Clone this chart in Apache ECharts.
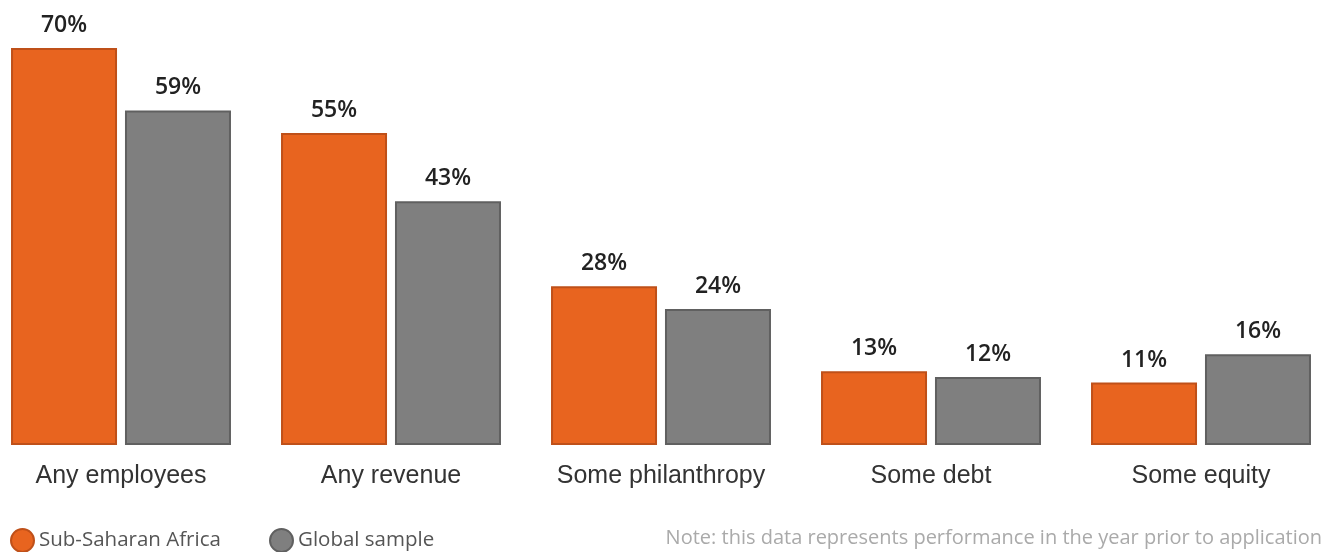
<!DOCTYPE html>
<html>
<head>
<meta charset="utf-8">
<script src="https://cdn.jsdelivr.net/npm/echarts@6/dist/echarts.min.js"></script>
<style>
html,body{margin:0;padding:0;background:#fff;}
#c{width:1324px;height:552px;}
</style>
</head>
<body>
<div id="c"></div>
<script>
const categories = ["Any employees", "Any revenue", "Some philanthropy", "Some debt", "Some equity"];
const seriesNames = ["Sub-Saharan Africa", "Global sample"];
const africa = [70, 55, 28, 13, 11];
const globalSample = [59, 43, 24, 12, 16];
const noteText = "Note: this data represents performance in the year prior to application";

const chart = echarts.init(document.getElementById('c'), null, {renderer: 'canvas'});
const labelStyle = {
  show: true, position: 'top', distance: 11,
  formatter: p => p.value + '%',
  color: '#222', fontSize: 23, fontWeight: 600, fontFamily: 'Open Sans'
};
chart.setOption({
  animation: false,
  backgroundColor: '#fff',
  grid: {left: -14, right: -12, top: 48, bottom: 107, containLabel: false, outerBoundsMode: 'none'},
  xAxis: {
    type: 'category', data: categories,
    axisLine: {show: false}, axisTick: {show: false},
    axisLabel: {interval: 0, hideOverlap: false, color: '#333', fontSize: 25, fontFamily: 'Liberation Sans', margin: 19}
  },
  yAxis: {type: 'value', min: 0, max: 70, show: false, splitLine: {show: false}},
  legend: [
    {data: [seriesNames[0]], left: 10, top: 528, padding: 0, icon: 'circle', itemWidth: 23, itemHeight: 23, itemGap: 0,
     textStyle: {color: '#555', fontSize: 20.5, fontFamily: 'Open Sans', padding: [0,0,0,0]}},
    {data: [seriesNames[1]], left: 269, top: 528, padding: 0, icon: 'circle', itemWidth: 23, itemHeight: 23, itemGap: 0,
     textStyle: {color: '#555', fontSize: 20.5, fontFamily: 'Open Sans', padding: [0,0,0,0]}}
  ],
  graphic: [{
    type: 'text', right: 2, top: 528,
    style: {text: noteText, fill: '#aaa', fontSize: 20, fontFamily: 'Open Sans'}
  }],
  series: [
    {name: seriesNames[0], type: 'bar', data: africa, barWidth: 106, barGap: '7.5%',
     itemStyle: {color: '#E8641F', borderColor: '#BF5019', borderWidth: 2},
     label: labelStyle},
    {name: seriesNames[1], type: 'bar', data: globalSample, barWidth: 106,
     itemStyle: {color: '#7F7F7F', borderColor: '#606060', borderWidth: 2},
     label: labelStyle}
  ]
});
</script>
</body>
</html>
